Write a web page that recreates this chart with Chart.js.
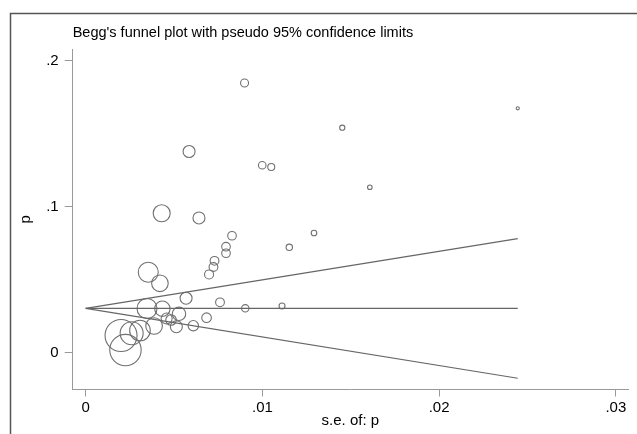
<!DOCTYPE html>
<html>
<head>
<meta charset="utf-8">
<script src="https://cdn.jsdelivr.net/npm/chart.js@4.4.1/dist/chart.umd.min.js"></script>
<style>
  html, body { margin: 0; padding: 0; background: #fff; }
  #wrap { width: 637px; height: 434px; }
</style>
</head>
<body>
<div id="wrap"><canvas id="funnel" width="637" height="434"></canvas></div>
<script>
// === data ===
const seValues = [
  0.00899, 0.00585, 0.00999, 0.01050, 0.01452, 0.01608, 0.02445,
  0.00430, 0.00641, 0.01292, 0.01152, 0.00828, 0.00794, 0.00794,
  0.00729, 0.00723, 0.00698, 0.00354, 0.00420, 0.00568, 0.00760,
  0.00903, 0.01111, 0.00347, 0.00434, 0.00528, 0.00684, 0.00609,
  0.00513, 0.00458, 0.00483, 0.00387, 0.00307, 0.00260, 0.00200,
  0.00225
];
const pValues = [
  0.1847, 0.1378, 0.1284, 0.1272, 0.1541, 0.1133, 0.1674,
  0.0955, 0.0923, 0.0820, 0.0722, 0.0801, 0.0726, 0.0681,
  0.0629, 0.0587, 0.0536, 0.0551, 0.0475, 0.0373, 0.0345,
  0.0304, 0.0320, 0.0303, 0.0301, 0.0266, 0.0240, 0.0185,
  0.0178, 0.0234, 0.0224, 0.0183, 0.0152, 0.0133, 0.0118,
  0.0018
];
// bubble radius (weight) of each study
const bubbleRadius = [
  4.0, 6.0, 3.8, 3.5, 2.6, 2.3, 1.6,
  8.5, 6.0, 2.8, 3.2, 4.3, 4.3, 4.3,
  4.4, 4.4, 4.5, 10.0, 8.3, 6.0, 4.4,
  3.7, 3.0, 10.0, 7.7, 6.7, 4.8, 5.2,
  6.0, 5.5, 5.3, 8.3, 10.3, 11.5, 16.0,
  15.7
];

// pseudo 95% confidence limits
const limitSe = [0, 0.02445];
const pooledLine = [0.0304, 0.0304];
const upperLimit = [0.0304, 0.0781];
const lowerLimit = [0.0304, -0.0175];

const xTicks = [0, 0.01, 0.02, 0.03];
const xTickLabels = ["0", ".01", ".02", ".03"];
const yTicks = [0, 0.1, 0.2];
const yTickLabels = ["0", ".1", ".2"];

const titleText = "Begg's funnel plot with pseudo 95% confidence limits";

// === build datasets ===
const bubbles = seValues.map((x, i) => ({ x: x, y: pValues[i], r: bubbleRadius[i] }));
const toPts = (ys) => limitSe.map((x, i) => ({ x: x, y: ys[i] }));

const lineStyle = {
  type: "scatter",
  showLine: true,
  borderColor: "#666",
  borderWidth: 1.2,
  pointRadius: 0,
  fill: false,
};

// frame + title drawn on top
const framePlugin = {
  id: "frame",
  afterDraw(chart) {
    const ctx = chart.ctx;
    ctx.save();
    ctx.strokeStyle = "#555";
    ctx.lineWidth = 1.5;
    ctx.beginPath();
    ctx.moveTo(10.5, 440);
    ctx.lineTo(10.5, 13.5);
    ctx.lineTo(640, 13.5);
    ctx.stroke();
    ctx.fillStyle = "#000";
    ctx.font = "14.5px 'Liberation Sans', Arial, sans-serif";
    ctx.textAlign = "left";
    ctx.textBaseline = "alphabetic";
    ctx.fillText(titleText, chart.chartArea.left, 37);
    ctx.restore();
  },
};

const tickFont = { family: "'Liberation Sans', Arial, sans-serif", size: 15 };

new Chart(document.getElementById("funnel"), {
  type: "bubble",
  data: {
    datasets: [
      Object.assign({ data: toPts(upperLimit) }, lineStyle),
      Object.assign({ data: toPts(pooledLine) }, lineStyle),
      Object.assign({ data: toPts(lowerLimit) }, lineStyle),
      {
        type: "bubble",
        data: bubbles,
        backgroundColor: "rgba(0,0,0,0)",
        borderColor: "#707070",
        borderWidth: 1.1,
      },
    ],
  },
  options: {
    responsive: false,
    animation: false,
    layout: { autoPadding: false, padding: { top: 49, right: 9, left: 0, bottom: 0 } },
    plugins: {
      legend: { display: false },
      tooltip: { enabled: false },
    },
    scales: {
      x: {
        type: "linear",
        position: "bottom",
        min: -0.000736,
        max: 0.03069,
        afterBuildTicks: (scale) => {
          scale.ticks = xTicks.map((v) => ({ value: v }));
        },
        afterFit: (scale) => {
          scale.height = 44.5;
          scale.paddingLeft = 0;
          scale.paddingRight = 0;
        },
        ticks: {
          autoSkip: false,
          maxRotation: 0,
          padding: 2,
          color: "#000",
          font: tickFont,
          callback: (v, i) => xTickLabels[i],
        },
        grid: {
          drawOnChartArea: false,
          drawTicks: true,
          tickLength: 7,
          tickColor: "#999",
          tickWidth: 1,
        },
        border: { display: true, color: "#999", width: 1 },
        title: {
          display: true,
          text: "s.e. of: p",
          color: "#000",
          font: tickFont,
          padding: { top: 0, bottom: 4.2 },
        },
      },
      y: {
        type: "linear",
        position: "left",
        min: -0.0252,
        max: 0.208,
        afterBuildTicks: (scale) => {
          scale.ticks = yTicks.map((v) => ({ value: v }));
        },
        afterFit: (scale) => {
          scale.width = 72.7;
          scale.paddingTop = 0;
          scale.paddingBottom = 0;
        },
        ticks: {
          autoSkip: false,
          padding: 6,
          color: "#000",
          font: tickFont,
          callback: (v, i) => yTickLabels[i],
        },
        grid: {
          drawOnChartArea: false,
          drawTicks: true,
          tickLength: 8,
          tickColor: "#999",
          tickWidth: 1,
        },
        border: { display: true, color: "#999", width: 1 },
        title: {
          display: true,
          text: "p",
          color: "#000",
          font: tickFont,
          padding: { top: 17, bottom: 0 },
        },
      },
    },
  },
  plugins: [framePlugin],
});
</script>
</body>
</html>
